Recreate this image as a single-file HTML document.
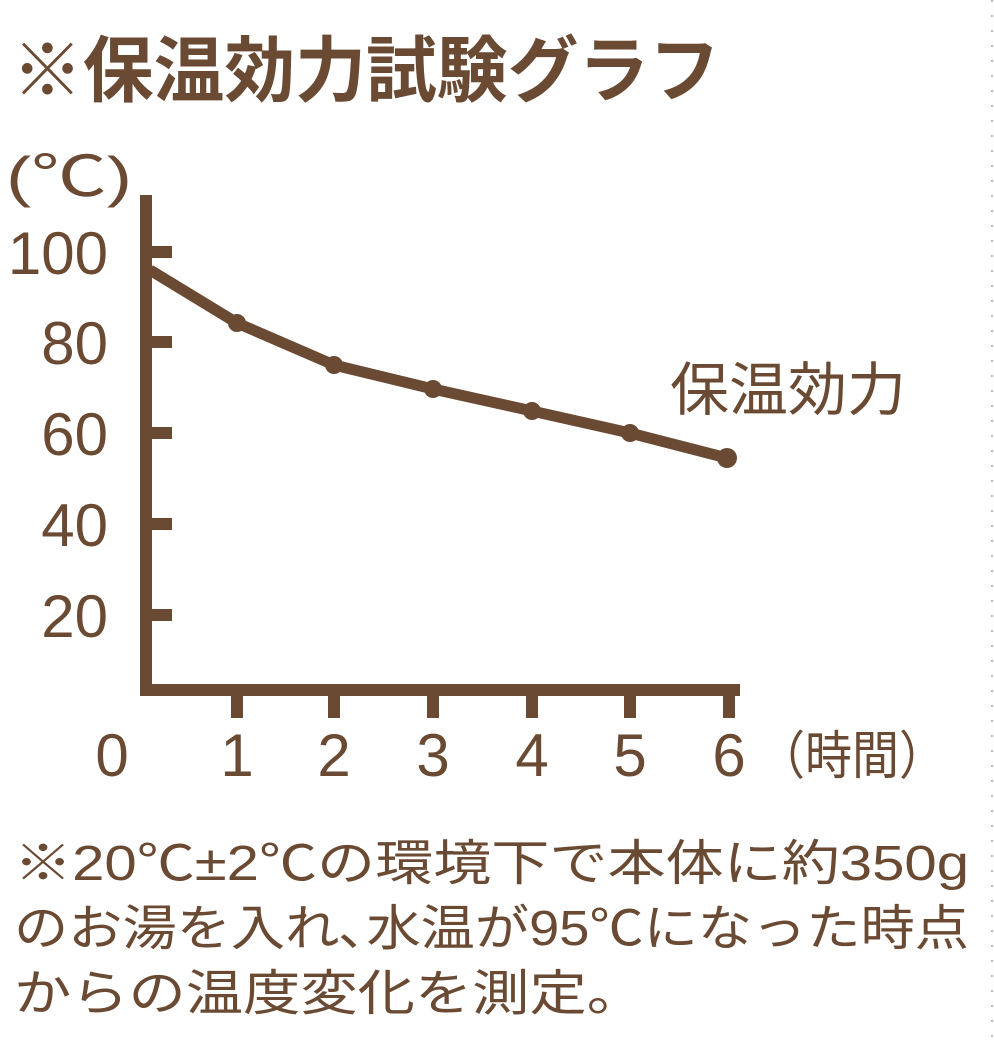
<!DOCTYPE html>
<html><head><meta charset="utf-8"><style>
body{margin:0;background:#fff}
svg{display:block}
text{font-family:"Liberation Sans","Noto Sans CJK JP",sans-serif;fill:#6b4a33}
</style></head><body>
<svg width="994" height="1044" viewBox="0 0 994 1044">
<line x1="992" y1="0" x2="992" y2="1044" stroke="#bbb" stroke-width="2" stroke-dasharray="2,13"/>
<text x="12" y="96" font-size="72" font-weight="bold" textLength="708" lengthAdjust="spacingAndGlyphs" style="font-weight:600">※保温効力試験グラフ</text>
<text x="6" y="196" font-size="56" textLength="126" lengthAdjust="spacingAndGlyphs">(℃)</text>
<g font-size="60" text-anchor="end">
<text x="108" y="274">100</text>
<text x="108" y="364">80</text>
<text x="108" y="455">60</text>
<text x="108" y="546">40</text>
<text x="108" y="637">20</text>
</g>
<g font-size="60" text-anchor="middle">
<text x="112" y="776">0</text>
<text x="237" y="776">1</text>
<text x="334" y="776">2</text>
<text x="433" y="776">3</text>
<text x="532" y="776">4</text>
<text x="630" y="776">5</text>
<text x="729" y="776">6</text>
</g>
<text x="758" y="774" font-size="52" textLength="188" lengthAdjust="spacingAndGlyphs">（時間）</text>
<text x="670" y="410" font-size="58" textLength="236" lengthAdjust="spacingAndGlyphs">保温効力</text>
<g stroke="#6b4a33" stroke-width="12" fill="none">
<line x1="146" y1="195" x2="146" y2="696"/>
<line x1="140" y1="690" x2="740" y2="690"/>
<line x1="146" y1="252" x2="172" y2="252"/>
<line x1="146" y1="342" x2="172" y2="342"/>
<line x1="146" y1="433" x2="172" y2="433"/>
<line x1="146" y1="524" x2="172" y2="524"/>
<line x1="146" y1="615" x2="172" y2="615"/>
<line x1="237" y1="690" x2="237" y2="718"/>
<line x1="334" y1="690" x2="334" y2="718"/>
<line x1="433" y1="690" x2="433" y2="718"/>
<line x1="532" y1="690" x2="532" y2="718"/>
<line x1="630" y1="690" x2="630" y2="718"/>
<line x1="729" y1="690" x2="729" y2="718"/>
<polyline stroke-width="11" stroke-linejoin="round" points="150,270 237,323 334,365 433,389 532,411 630,433 727,458"/>
</g>
<g fill="#6b4a33">
<circle cx="237" cy="323" r="9"/><circle cx="334" cy="365" r="9"/><circle cx="433" cy="389" r="9"/>
<circle cx="532" cy="411" r="9"/><circle cx="630" cy="433" r="9"/><circle cx="727" cy="458" r="10"/>
</g>
<g font-size="49">
<text x="14" y="880" textLength="955" lengthAdjust="spacingAndGlyphs">※20℃±2℃の環境下で本体に約350g</text>
<text x="14" y="945" textLength="955" lengthAdjust="spacingAndGlyphs">のお湯を入れ､水温が95℃になった時点</text>
<text x="14" y="1010" textLength="630" lengthAdjust="spacingAndGlyphs">からの温度変化を測定。</text>
</g>
</svg>
</body></html>
